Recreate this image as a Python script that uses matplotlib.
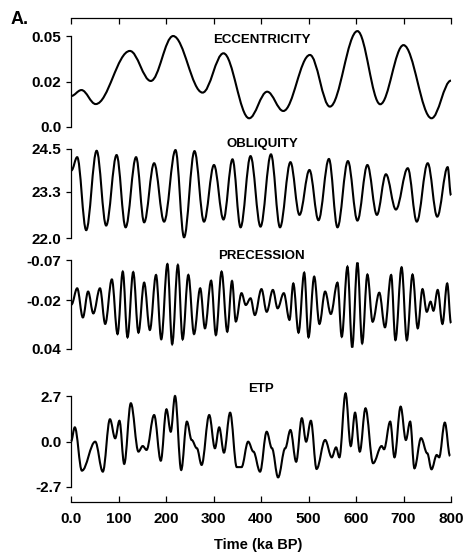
import matplotlib
matplotlib.use("Agg")
import matplotlib.pyplot as plt
from matplotlib.path import Path
from matplotlib.patches import PathPatch

plt.rcParams['font.family'] = ['Liberation Sans', 'DejaVu Sans']

# values (turning points of each curve), time in ka BP
ecc_t = [0, 22, 52, 124, 168, 215, 277, 321, 375, 413, 447, 503, 545, 603, 651, 700, 759, 800]
ecc_v = [0.017, 0.0203, 0.0126, 0.0418, 0.0253, 0.050, 0.0189, 0.0405, 0.0048, 0.0194,
         0.0088, 0.0396, 0.0112, 0.0527, 0.0125, 0.045, 0.0048, 0.0255]

obl_t = [1, 13, 32, 54, 74, 96, 115, 137, 154, 175, 196, 220, 238, 260, 280, 301, 321, 340,
         357, 378, 399, 421, 440, 462, 481, 502, 521, 543, 561, 583, 603, 624, 644, 663, 684,
         709, 728, 751, 771, 793, 800]
obl_v = [23.9, 24.27, 22.22, 24.45, 22.35, 24.33, 22.30, 24.27, 22.44, 24.10, 22.46, 24.47,
         22.02, 24.44, 22.46, 24.05, 22.52, 24.21, 22.30, 24.30, 22.32, 24.35, 22.30, 24.13,
         22.65, 23.91, 22.50, 24.22, 22.30, 24.16, 22.49, 24.05, 22.65, 23.79, 22.80, 23.96,
         22.46, 24.10, 22.60, 23.99, 23.2]

pre_t = [1, 13, 25, 36, 47, 61, 72, 86, 98, 109, 119, 131, 142, 154, 166, 179, 190, 203, 213,
         225, 235, 247, 259, 272, 282, 295, 305, 317, 329, 339, 347, 359, 368, 378, 387, 401,
         412, 425, 435, 448, 460, 468, 479, 491, 500, 512, 523, 535, 547, 561, 570, 582, 592,
         603, 613, 624, 635, 649, 661, 674, 683, 696, 707, 719, 730, 740, 749, 757, 763, 772,
         782, 792, 800]
pre_v = [-0.015, -0.035, 0.001, -0.031, -0.004, -0.035, 0.009, -0.046, 0.0215, -0.0556,
         0.0255, -0.055, 0.0198, -0.042, 0.0165, -0.0515, 0.028, -0.065, 0.034, -0.0638,
         0.028, -0.0515, 0.0215, -0.035, 0.0144, -0.0444, 0.0227, -0.0556, 0.0186, -0.044,
         0.006, -0.029, -0.0144, -0.0227, -0.002, -0.034, -0.006, -0.033, -0.0103, -0.029,
         0.004, -0.041, 0.0198, -0.0543, 0.0255, -0.0494, 0.009, -0.031, -0.0033, -0.042,
         0.0248, -0.0617, 0.038, -0.0667, 0.033, -0.052, 0.0063, -0.0296, 0.0132, -0.0515,
         0.029, -0.061, 0.029, -0.052, 0.0144, -0.034, -0.006, -0.0185, -0.0073, -0.033,
         0.009, -0.041, 0.008]

etp_t = [0, 8, 23, 51, 67, 82, 93, 102, 112, 126, 142, 151, 159, 175, 189, 201, 210, 219, 232,
         244, 254, 265, 275, 291, 303, 312, 322, 335, 349, 359, 373, 384, 398, 412, 423, 436,
         451, 462, 474, 486, 495, 505, 517, 535, 549, 558, 565, 578, 589, 598, 608, 620, 636,
         654, 659, 672, 681, 694, 705, 714, 723, 737, 750, 759, 770, 775, 787, 798]
etp_v = [0.0, 0.84, -1.73, -0.01, -1.79, 1.32, 0.19, 1.23, -1.33, 2.27, -0.60, -0.27, -0.50,
         1.57, -1.14, 1.91, 0.58, 2.70, -1.69, 1.18, 0.09, -0.40, -1.39, 1.57, -0.40, 0.84,
         -0.66, 1.71, -1.52, -1.52, -0.01, -0.60, -1.79, 0.58, -0.40, -2.13, -0.40, 0.68,
         -1.20, 1.38, -0.01, 1.23, -1.63, 0.09, -0.94, -0.35, -0.94, 2.86, -0.27, 1.71,
         -0.60, 1.97, -1.29, -0.27, -0.46, 1.18, -0.94, 2.07, 0.09, 1.18, -1.59, 0.20, -0.70,
         -1.65, -0.80, -0.94, 1.12, -0.86]

x_ticks = [0, 100, 200, 300, 400, 500, 600, 700, 800]
x_labels = ['0.0', '100', '200', '300', '400', '500', '600', '700', '800']
ecc_ticks, ecc_labels = [0.0, 0.025, 0.05], ['0.0', '0.02', '0.05']
obl_ticks, obl_labels = [22.0, 23.3, 24.5], ['22.0', '23.3', '24.5']
pre_ticks, pre_labels = [-0.07, -0.02, 0.04], ['-0.07', '-0.02', '0.04']
etp_ticks, etp_labels = [-2.7, 0.0, 2.7], ['-2.7', '0.0', '2.7']

W, H = 468, 554


def smooth(t, v, k=0.364):
    verts = [(t[0], v[0])]
    codes = [Path.MOVETO]
    for i in range(len(t) - 1):
        dt = t[i + 1] - t[i]
        verts += [(t[i] + k * dt, v[i]), (t[i + 1] - k * dt, v[i + 1]), (t[i + 1], v[i + 1])]
        codes += [Path.CURVE4] * 3
    return Path(verts, codes)


def panel(ytop, ybot, ylim, ticks, labels, t, v):
    ax = fig.add_axes([71 / W, 1 - ybot / H, 380 / W, (ybot - ytop) / H])
    ax.set_xlim(0, 800)
    ax.set_ylim(*ylim)
    ax.patch.set_visible(False)
    for s in ['top', 'right', 'bottom']:
        ax.spines[s].set_visible(False)
    ax.spines['left'].set_bounds(min(ticks), max(ticks))
    ax.spines['left'].set_linewidth(0.9)
    ax.set_yticks(ticks)
    ax.set_yticklabels(labels, fontsize=11, fontweight='bold')
    ax.tick_params(axis='y', direction='out', length=3.5, width=0.9, pad=3.5)
    ax.tick_params(axis='x', bottom=False, labelbottom=False)
    ax.add_patch(PathPatch(smooth(t, v), fill=False, ec='black', lw=1.5, clip_on=False))
    return ax


fig = plt.figure(figsize=(W / 100, H / 100), dpi=100)

ax1 = panel(18, 127, (0, 0.0599), ecc_ticks, ecc_labels, ecc_t, ecc_v)
ax1.spines['top'].set_visible(True)
ax1.spines['top'].set_linewidth(0.9)
ax1.set_xticks(x_ticks)
ax1.tick_params(axis='x', top=True, labeltop=False, direction='in', length=4, width=0.9)

ax2 = panel(149, 238, (22.0, 24.5), obl_ticks, obl_labels, obl_t, obl_v)
ax3 = panel(260, 349, (0.04, -0.07), pre_ticks, pre_labels, pre_t, pre_v)

ax4 = panel(396, 487, (-2.7, 2.7), etp_ticks, etp_labels, etp_t, etp_v)
ax4.spines['bottom'].set_visible(True)
ax4.spines['bottom'].set_position(('outward', 10.8))
ax4.spines['bottom'].set_linewidth(0.9)
ax4.set_xticks(x_ticks)
ax4.set_xticklabels(x_labels, fontsize=11, fontweight='bold')
ax4.tick_params(axis='x', bottom=True, labelbottom=True, direction='in', length=4, width=0.9, pad=7.5)

for name, x, y in [('ECCENTRICITY', 262, 40), ('OBLIQUITY', 262, 144),
                   ('PRECESSION', 261, 256), ('ETP', 261, 389)]:
    fig.text(x / W, 1 - y / H, name, ha='center', va='center', fontsize=9.5, fontweight='bold')

fig.text(11 / W, 1 - 19 / H, 'A.', ha='left', va='center', fontsize=13, fontweight='bold')
fig.text(258 / W, 1 - 545 / H, 'Time (ka BP)', ha='center', va='center', fontsize=10.5,
         fontweight='bold')

fig.savefig('out.png', dpi=100)
